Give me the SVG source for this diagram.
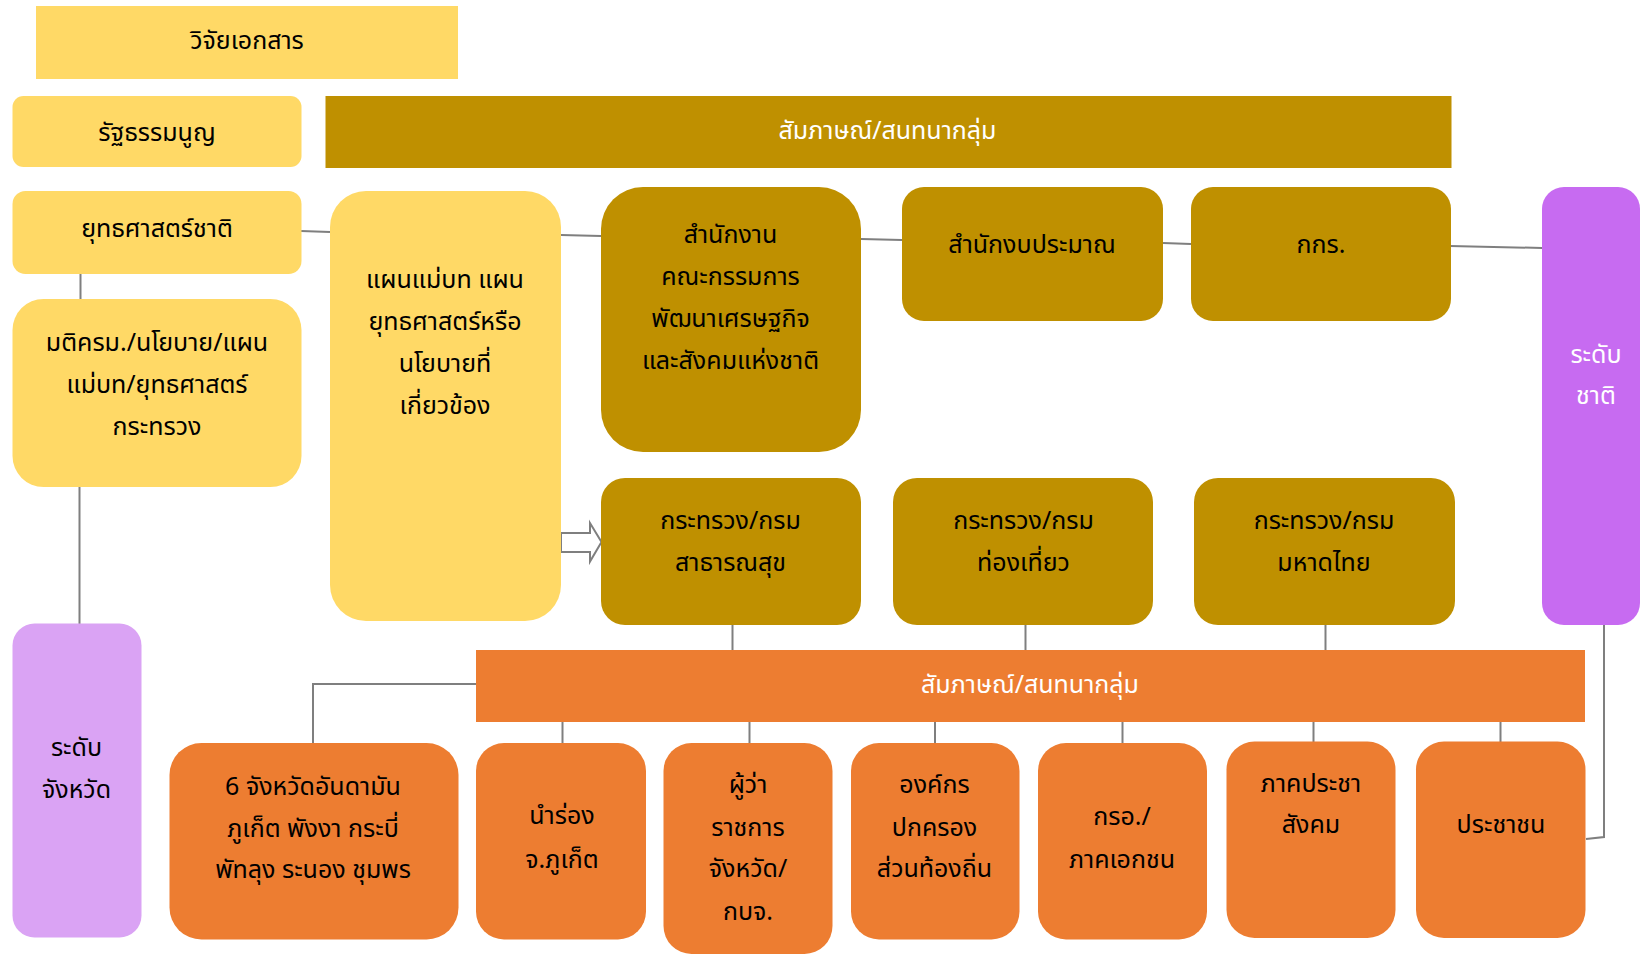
<svg xmlns="http://www.w3.org/2000/svg" width="1641" height="954" viewBox="0 0 1641 954">
<style>
text{font-family:"Noto Sans Thai","Noto Sans","DejaVu Sans",sans-serif;font-size:25px;text-anchor:middle;fill:#000}
.w{fill:#fff}
.y{fill:#FFD966}
.g{fill:#BF9000}
.o{fill:#ED7D31}
.p{fill:#C76BF1}
.lp{fill:#DAA3F4}
.c{fill:none;stroke:#7F7F7F;stroke-width:2}
</style>
<rect width="1641" height="954" fill="#fff"/>
<g id="connectors">
<line class="c" x1="301" y1="231" x2="330" y2="232"/>
<line class="c" x1="561" y1="235" x2="601" y2="236"/>
<line class="c" x1="861" y1="239" x2="902" y2="240"/>
<line class="c" x1="1163" y1="243" x2="1191" y2="244"/>
<line class="c" x1="1450" y1="246" x2="1542" y2="248"/>
<line class="c" x1="80.5" y1="274" x2="80.5" y2="299"/>
<line class="c" x1="79.5" y1="487" x2="79.5" y2="624"/>
<line class="c" x1="732.5" y1="624" x2="732.5" y2="650"/>
<line class="c" x1="1025.5" y1="624" x2="1025.5" y2="650"/>
<line class="c" x1="1325.5" y1="624" x2="1325.5" y2="650"/>
<polyline class="c" points="476,684 313,684 313,743"/>
<line class="c" x1="562.5" y1="722" x2="562.5" y2="743"/>
<line class="c" x1="749.5" y1="722" x2="749.5" y2="743"/>
<line class="c" x1="935" y1="722" x2="935" y2="743"/>
<line class="c" x1="1122.5" y1="722" x2="1122.5" y2="743"/>
<line class="c" x1="1313.5" y1="722" x2="1313.5" y2="743"/>
<line class="c" x1="1500.5" y1="722" x2="1500.5" y2="743"/>
<polyline class="c" points="1604,624 1604,837 1586,839"/>
<polygon points="561,533 590,533 590,523 601.5,542 590,561.5 590,552 561,552" fill="#fff" stroke="#7F7F7F" stroke-width="2"/>
</g>
<g id="n_vijai"><rect class="y" x="36" y="6" width="422" height="73"/><text x="247" y="49">วิจัยเอกสาร</text></g>
<g id="n_rattha"><rect class="y" x="12.5" y="96" width="289" height="71" rx="11"/><text x="157" y="141">รัฐธรรมนูญ</text></g>
<g id="n_interview_top"><rect class="g" x="325.5" y="96" width="1126" height="72"/><text class="w" x="887.5" y="139">สัมภาษณ์/สนทนากลุ่ม</text></g>
<g id="n_yuttha"><rect class="y" x="12.5" y="191" width="289" height="83" rx="13"/><text x="157" y="237">ยุทธศาสตร์ชาติ</text></g>
<g id="n_mati"><rect class="y" x="12.5" y="299" width="289" height="188" rx="31"/><text x="157" y="351">มติครม./นโยบาย/แผน</text><text x="157" y="393">แม่บท/ยุทธศาสตร์</text><text x="157" y="435">กระทรวง</text></g>
<g id="n_plan"><rect class="y" x="330" y="191" width="231" height="430" rx="36"/><text x="445" y="288">แผนแม่บท แผน</text><text x="445" y="330">ยุทธศาสตร์หรือ</text><text x="445" y="372">นโยบายที่</text><text x="445" y="414">เกี่ยวข้อง</text></g>
<g id="n_nesdc"><rect class="g" x="601" y="187" width="260" height="265" rx="42"/><text x="730.5" y="243">สำนักงาน</text><text x="730.5" y="285">คณะกรรมการ</text><text x="730.5" y="327">พัฒนาเศรษฐกิจ</text><text x="730.5" y="369">และสังคมแห่งชาติ</text></g>
<g id="n_budget"><rect class="g" x="902" y="187" width="261" height="134" rx="22"/><text x="1032" y="253">สำนักงบประมาณ</text></g>
<g id="n_kkr"><rect class="g" x="1191" y="187" width="260" height="134" rx="22"/><text x="1321" y="253">กกร.</text></g>
<g id="n_national"><rect class="p" x="1542" y="187" width="98" height="438" rx="22"/><text class="w" x="1596" y="363">ระดับ</text><text class="w" x="1596" y="404">ชาติ</text></g>
<g id="n_health"><rect class="g" x="601" y="478" width="260" height="147" rx="24"/><text x="730.5" y="529">กระทรวง/กรม</text><text x="730.5" y="571">สาธารณสุข</text></g>
<g id="n_tourism"><rect class="g" x="893" y="478" width="260" height="147" rx="24"/><text x="1023.5" y="529">กระทรวง/กรม</text><text x="1023.5" y="571">ท่องเที่ยว</text></g>
<g id="n_interior"><rect class="g" x="1194" y="478" width="261" height="147" rx="24"/><text x="1324" y="529">กระทรวง/กรม</text><text x="1324" y="571">มหาดไทย</text></g>
<g id="n_interview_orange"><rect class="o" x="476" y="650" width="1109" height="72"/><text class="w" x="1030" y="693">สัมภาษณ์/สนทนากลุ่ม</text></g>
<g id="n_province"><rect class="lp" x="12.5" y="623.5" width="129" height="314" rx="22"/><text x="76.5" y="756">ระดับ</text><text x="76.5" y="798">จังหวัด</text></g>
<g id="n_andaman"><rect class="o" x="169.5" y="743" width="289" height="196.5" rx="32"/><text x="313" y="795">6 จังหวัดอันดามัน</text><text x="313" y="836.5">ภูเก็ต พังงา กระบี่</text><text x="313" y="878">พัทลุง ระนอง ชุมพร</text></g>
<g id="n_pilot"><rect class="o" x="476" y="743" width="170" height="196.5" rx="28"/><text x="562" y="824">นำร่อง</text><text x="562" y="868">จ.ภูเก็ต</text></g>
<g id="n_governor"><rect class="o" x="663.5" y="743" width="169" height="211" rx="28"/><text x="748" y="792.5">ผู้ว่า</text><text x="748" y="835.5">ราชการ</text><text x="748" y="877">จังหวัด/</text><text x="748" y="920">กบจ.</text></g>
<g id="n_local"><rect class="o" x="851" y="743" width="168.5" height="196.5" rx="28"/><text x="934.5" y="792.5">องค์กร</text><text x="934.5" y="835.5">ปกครอง</text><text x="934.5" y="877">ส่วนท้องถิ่น</text></g>
<g id="n_private"><rect class="o" x="1038" y="743" width="169" height="196.5" rx="28"/><text x="1122" y="825">กรอ./</text><text x="1122" y="868">ภาคเอกชน</text></g>
<g id="n_civil"><rect class="o" x="1226.5" y="741.5" width="169" height="196.5" rx="28"/><text x="1311" y="791.5">ภาคประชา</text><text x="1311" y="833">สังคม</text></g>
<g id="n_people"><rect class="o" x="1416" y="741.5" width="169.5" height="196.5" rx="28"/><text x="1501" y="833">ประชาชน</text></g>
</svg>
